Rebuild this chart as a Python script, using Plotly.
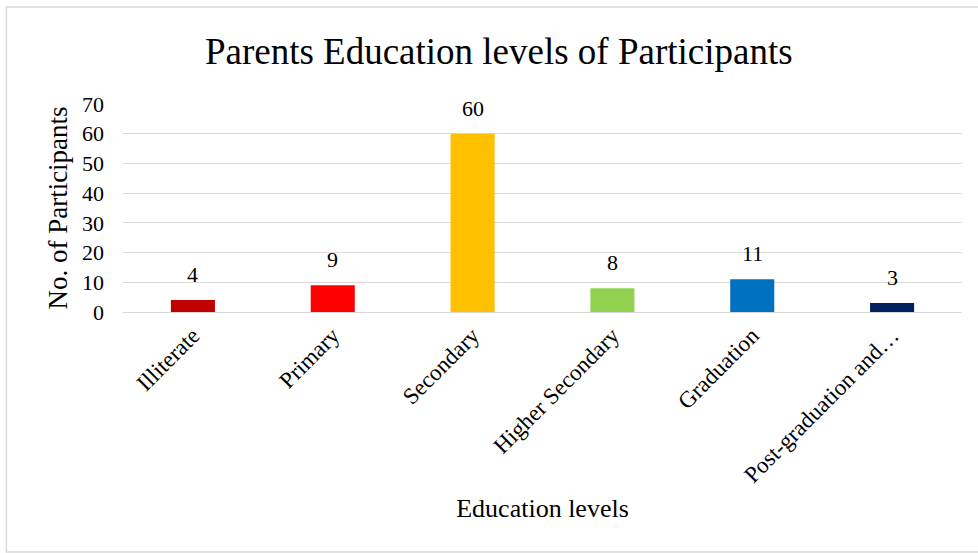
import plotly.graph_objects as go

categories = ["Illiterate", "Primary", "Secondary", "Higher Secondary", "Graduation", "Post-graduation and…"]
values = [4, 9, 60, 8, 11, 3]
colors = ["#C00000", "#FF0000", "#FFC000", "#92D050", "#0070C0", "#002060"]
y_ticks = [0, 10, 20, 30, 40, 50, 60, 70]

FONT = "Liberation Serif, Times New Roman, serif"

fig = go.Figure(go.Bar(
    x=categories, y=values, marker_color=colors, marker_line_width=0,
))

annotations = [
    dict(x=c, y=v, xref="x", yref="y", text=str(v), showarrow=False,
         yanchor="bottom", yshift=11, font=dict(family=FONT, size=22, color="#000000"))
    for c, v in zip(categories, values)
]

fig.update_layout(
    width=978, height=553,
    margin=dict(l=123, r=16, t=104, b=241),
    paper_bgcolor="white", plot_bgcolor="white",
    bargap=0.685,
    showlegend=False,
    font=dict(family=FONT, color="#000000"),
    title=dict(text="Parents Education levels of Participants", x=0.51, xanchor="center",
               y=0.908, yanchor="middle", font=dict(family=FONT, size=37, color="#000000")),
    xaxis=dict(tickangle=-45, tickfont=dict(size=23), showline=True, linecolor="#D9D9D9",
               linewidth=1, ticks="", showgrid=False,
               title=dict(text="Education levels", font=dict(size=26), standoff=12)),
    yaxis=dict(range=[0, 70], tickvals=y_ticks, tickfont=dict(size=22), showgrid=True,
               gridcolor="#D9D9D9", gridwidth=1, zeroline=False, showline=False, ticks="",
               ticklen=0, ticklabelstandoff=18,
               title=dict(text="No. of Participants", font=dict(size=27), standoff=6)),
    annotations=annotations,
    shapes=[dict(type="rect", xref="paper", yref="paper", x0=-0.139, x1=1.05, y0=-1.154, y1=1.466,
                 line=dict(color="#D9D9D9", width=1.5), fillcolor="rgba(0,0,0,0)", layer="below")],
)

fig.write_html("out.html")
